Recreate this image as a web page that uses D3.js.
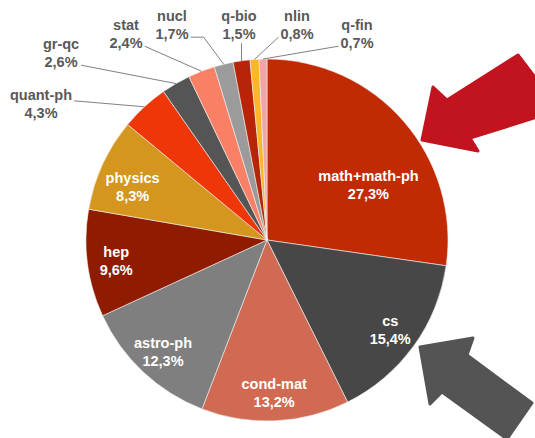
<!DOCTYPE html>
<html>
<head>
<meta charset="utf-8">
<script src="https://cdn.jsdelivr.net/npm/d3@7"></script>
<style>
  body { margin:0; background:#fff; }
  svg { display:block; font-family:"Liberation Sans", Arial, sans-serif; font-weight:bold; }
</style>
</head>
<body>
<svg id="chart" width="535" height="438"></svg>
<script>
// arXiv categories, share in %
var kategoriler = ["math+math-ph","cs","cond-mat","astro-ph","hep","physics","quant-ph","gr-qc","stat","nucl","q-bio","nlin","q-fin"];
var yuzdeler    = [27.3, 15.4, 13.2, 12.3, 9.6, 8.3, 4.3, 2.6, 2.4, 1.7, 1.5, 0.8, 0.7];
var etiketler   = ["27,3%","15,4%","13,2%","12,3%","9,6%","8,3%","4,3%","2,6%","2,4%","1,7%","1,5%","0,8%","0,7%"];
var renkler     = ["#c22a03","#474747","#d06a53","#7f7f7f","#8f1c00","#d4961e","#ee3609","#555555","#f97f65","#9b9b9b","#b72408","#fdb62a","#f3a4a4"];

// how many slices get the label inside
var icerde = 6;
// text positions of the small outside labels (quant-ph .. q-fin)
var disKonum = [[41,95],[61,44],[126,25],[172,16],[239,16],[297,16],[357,25]];

var svg = d3.select("#chart");
var cx = 267, cy = 240, R = 181;

var pie = d3.pie().sort(null).value(function(d){ return d; });
var arcs = pie(yuzdeler);
var arc = d3.arc().innerRadius(0).outerRadius(R);

var g = svg.append("g").attr("transform","translate("+cx+","+cy+")");

g.selectAll("path")
  .data(arcs)
  .enter().append("path")
  .attr("d", arc)
  .style("fill", function(d,i){ return renkler[i]; })
  .style("stroke", "#f2f2f2")
  .style("stroke-width", 0.6);

// inside labels
g.selectAll("text.ic")
  .data(arcs.slice(0, icerde))
  .enter().append("text")
  .attr("class","ic")
  .attr("transform", function(d,i){
      var a = (d.startAngle + d.endAngle)/2, r = R*0.84;
      if(i==0){ a = a + 0.21; r = R*0.64; }   // big slice label sits lower
      if(i==5){ r = R*0.8; a = a - 0.05; }
      return "translate("+(r*Math.sin(a))+","+(-r*Math.cos(a))+")";
  })
  .style("fill","#fff")
  .style("font-size","14.5px")
  .attr("text-anchor","middle")
  .each(function(d,i){
      var t = d3.select(this);
      t.append("tspan").attr("x",0).attr("dy","-0.2em").text(kategoriler[i]);
      t.append("tspan").attr("x",0).attr("dy","1.25em").text(etiketler[i]);
  });

// outside labels with leader lines
var dis = arcs.slice(icerde);
dis.forEach(function(d, k){
    var i = k + icerde;
    var a = (d.startAngle + d.endAngle)/2;
    var ex = cx + R*Math.sin(a), ey = cy - R*Math.cos(a);
    var p = disKonum[k];
    var t = svg.append("text")
      .attr("x", p[0]).attr("y", p[1])
      .attr("text-anchor","middle")
      .style("fill","#595959")
      .style("font-size","14.5px");
    t.append("tspan").attr("x",p[0]).attr("dy","0.35em").text(kategoriler[i]);
    t.append("tspan").attr("x",p[0]).attr("dy","1.25em").text(etiketler[i]);
    var b = t.node().getBBox();
    var lx, ly = Math.min(b.y + b.height - 5, ey - 6);
    if (ex > b.x + b.width + 4) lx = b.x + b.width + 2;
    else if (ex < b.x - 4) lx = b.x - 2;
    else { lx = ex; ly = b.y + b.height + 1; }
    var pts = [[lx, ly]];
    if (i == 9) pts.push([lx + 13, ly]);   // nucl line has a short flat part
    pts.push([ex, ey]);
    svg.append("path")
      .attr("d", d3.line()(pts))
      .style("fill","none")
      .style("stroke","#808080")
      .style("stroke-width",1);
});

// the two arrows
svg.append("polygon")
  .attr("points","422,140 433,87 447,100 518,55 560,110 470,138 478,151")
  .style("fill","#c2141f").style("stroke","#c2141f")
  .style("stroke-width",3).style("stroke-linejoin","round");
svg.append("polygon")
  .attr("points","420,347 473,338 467,355 532,403 507,439 442,392 430,404")
  .style("fill","#545454").style("stroke","#545454")
  .style("stroke-width",3).style("stroke-linejoin","round");
</script>
</body>
</html>
